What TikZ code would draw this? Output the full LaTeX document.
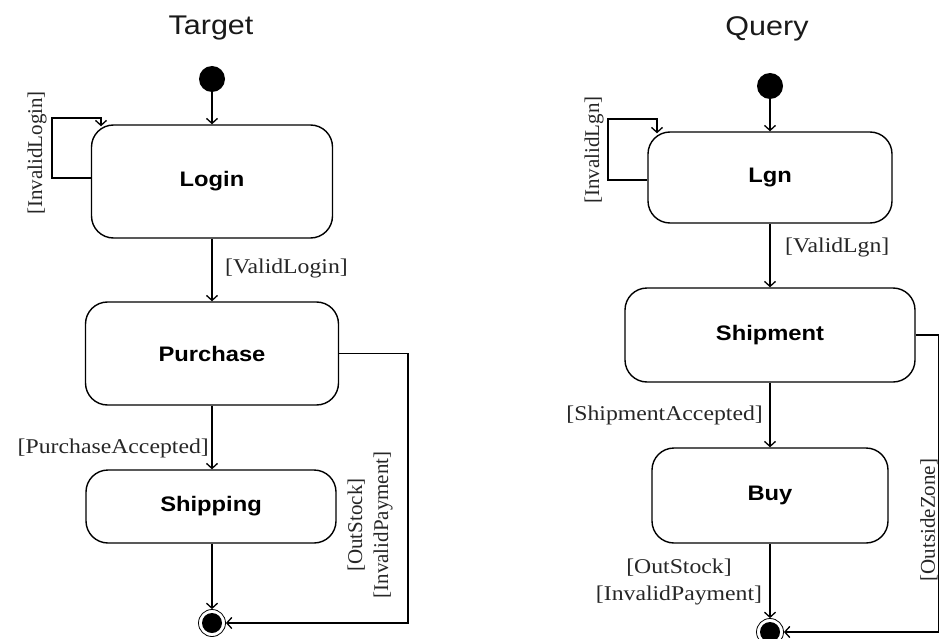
\documentclass[tikz,border=0pt]{standalone}
\usepackage{fontspec}
\setmainfont{Liberation Serif}
\newfontfamily\guardfont{Liberation Serif}[FakeStretch=1.13]
\newfontfamily\guardrotfont{Liberation Serif}
\newfontfamily\statefont{Liberation Sans}[FakeStretch=1.13]
\usetikzlibrary{arrows.meta,calc}

\tikzset{
  statebox/.style={draw, line width=1.4pt, rounded corners=22pt, inner sep=0pt,
    font=\statefont\bfseries\fontsize{21}{25}\selectfont},
  startdot/.style={circle, fill=black, minimum size=26pt, inner sep=0pt},
  enddot/.style={circle, draw, line width=0.8pt, minimum size=27pt, inner sep=0pt,
    path picture={\fill (path picture bounding box.center) circle (10pt);}},
  guard/.style={inner sep=0pt, text=black!85, align=center,
    font=\guardfont\fontsize{21}{27}\selectfont},
  guardrot/.style={inner sep=0pt, text=black!85, rotate=90, align=center,
    font=\guardrotfont\fontsize{21}{26}\selectfont},
  arr/.style={line width=1.3pt, -{Straight Barb[length=5pt,width=11pt]}},
  heading/.style={inner sep=0pt, anchor=base, text=black!90,
    font=\statefont\fontsize{27}{32}\selectfont},
}

\begin{document}
\begin{tikzpicture}[x=1pt, y=-1pt]
  \useasboundingbox (0,0) rectangle (939,639);
  \fill[white] (0,0) rectangle (939,639);
  \clip (0,0) rectangle (939,639);

  % ---------------- Target machine ----------------
  \node[heading] (ttarget) at (211,35) {Target};

  \node[startdot] (ti) at (212,79) {};
  \node[statebox, minimum width=241pt, minimum height=113pt] (login) at (212,181.5) {Login};
  \node[statebox, minimum width=253pt, minimum height=103pt] (purchase) at (212,353.5) {Purchase};
  \node[statebox, minimum width=250pt, minimum height=73pt] (shipping) at (211,506.5) {Shipping};
  \node[enddot] (tf) at (212,623) {};

  \draw[arr] (ti) -- (ti |- login.north);
  \draw[arr] (login) -- (purchase);
  \draw[arr] (purchase.south -| tf) -- (shipping.north -| tf);
  \draw[arr] (shipping.south -| tf) -- (tf);

  % self loop on Login
  \coordinate (tl1) at (52,178);
  \coordinate (tl2) at (52,118);
  \coordinate (tl3) at (101,118);
  \draw[arr] (tl1 -| login.west) -- (tl1) -- (tl2) -- (tl3) -- ($(tl3 |- login.north)+(0,2)$);
  \node[guardrot] (gil) at (37,153) {[InvalidLogin]};

  % failure path from Purchase to the final state
  \coordinate (tr) at (408,0);
  \draw[arr] (purchase.east) -- (purchase.east -| tr) -- (tr |- tf) -- (tf);
  \node[guardrot] (gfail) at (370,525) {[OutStock]\\{}[InvalidPayment]};

  \node[guard, anchor=west] (gvl) at (225,268) {[ValidLogin]};
  \node[guard, anchor=east] (gpa) at (209,448) {[PurchaseAccepted]};

  % ---------------- Query machine ----------------
  \node[heading] (tquery) at (767,36) {Query};

  \node[startdot] (qi) at (770,86) {};
  \node[statebox, minimum width=244pt, minimum height=91pt] (lgn) at (770,177.5) {Lgn};
  \node[statebox, minimum width=290pt, minimum height=94pt] (shipment) at (770,335) {Shipment};
  \node[statebox, minimum width=236pt, minimum height=95pt] (buy) at (770,495.5) {Buy};
  \node[enddot] (qf) at (770,632) {};

  \draw[arr] (qi) -- (qi |- lgn.north);
  \draw[arr] (lgn) -- (shipment);
  \draw[arr] (shipment) -- (buy);
  \draw[arr] (buy) -- (qf);

  % self loop on Lgn
  \coordinate (ql1) at (608,180);
  \coordinate (ql2) at (608,119);
  \coordinate (ql3) at (657,119);
  \draw[arr] (ql1 -| lgn.west) -- (ql1) -- (ql2) -- (ql3) -- ($(ql3 |- lgn.north)+(0,2)$);
  \node[guardrot] (gilg) at (594,150) {[InvalidLgn]};

  % out-of-zone path from Shipment to the final state
  \coordinate (qr) at (938.5,0);
  \draw[arr] (shipment.east) -- (shipment.east -| qr) -- (qr |- qf) -- (qf);
  \node[guardrot] (goz) at (929,520) {[OutsideZone]};

  \node[guard, anchor=west] (gvlg) at (785,247) {[ValidLgn]};
  \node[guard, anchor=east] (gsa) at (763,415) {[ShipmentAccepted]};
  \node[guard] (gqfail) at (679,582) {[OutStock]\\{}[InvalidPayment]};
\end{tikzpicture}
\end{document}
